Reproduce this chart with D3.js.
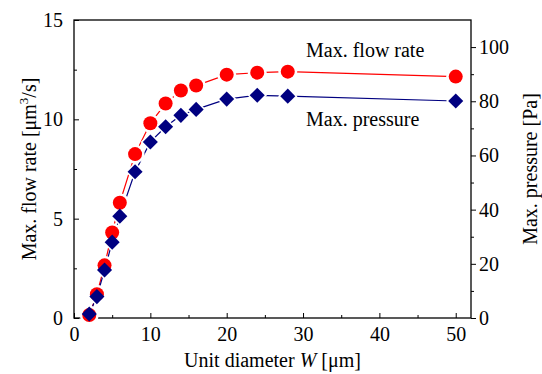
<!DOCTYPE html>
<html>
<head>
<meta charset="utf-8">
<script src="https://cdn.jsdelivr.net/npm/d3@7"></script>
<style>
  body { margin: 0; background: #fff; }
  svg text { font-family: "Times New Roman", Times, "Liberation Serif", "DejaVu Serif", serif; fill: #000; }
</style>
</head>
<body>
<svg id="chart"></svg>
<script>
// data
const diameters = [2, 3, 4, 5, 6, 8, 10, 12, 14, 16, 20, 24, 28, 50];
const flowRate = [0.15, 1.2, 2.65, 4.3, 5.8, 8.25, 9.8, 10.8, 11.45, 11.7, 12.25, 12.35, 12.4, 12.15];
const pressure = [1.5, 7.9, 17.7, 28, 37.6, 54, 65, 70.6, 74.8, 77, 80.8, 82.2, 81.9, 80.1];

const xTicks = [0, 10, 20, 30, 40, 50];
const yLeftTicks = [0, 5, 10, 15];
const yRightTicks = [0, 20, 40, 60, 80, 100];

const width = 542;
const height = 374;
const plotLeft = 74, plotRight = 471, plotTop = 20, plotBottom = 318;

const red = "#ff0000";
const navy = "#000080";
const serif = '"Times New Roman", Times, "Liberation Serif", "DejaVu Serif", serif';

let svg = d3.select("#chart").attr("width", width).attr("height", height);

let xScale = d3.scaleLinear().domain([0, 52]).range([plotLeft, plotRight]);
let yLeft = d3.scaleLinear().domain([0, 15]).range([plotBottom, plotTop]);
let yRight = d3.scaleLinear().domain([0, 110]).range([plotBottom, plotTop]);

// axes
function drawAxes() {
  // bottom: inward ticks
  svg.append("g")
    .attr("transform", "translate(0," + plotBottom + ")")
    .call(d3.axisBottom(xScale).tickValues(d3.range(5, 50, 10)).tickSize(-3).tickFormat(""))
    .call(g => g.select(".domain").remove());
  svg.append("g")
    .attr("transform", "translate(0," + plotBottom + ")")
    .call(d3.axisBottom(xScale).tickValues(xTicks).tickSizeInner(-5).tickSizeOuter(0).tickPadding(9))
    .call(g => g.select(".domain").remove());

  // left: inward ticks
  svg.append("g")
    .attr("transform", "translate(" + plotLeft + ",0)")
    .call(d3.axisLeft(yLeft).tickValues([2.5, 7.5, 12.5]).tickSize(-3).tickFormat(""))
    .call(g => g.select(".domain").remove());
  svg.append("g")
    .attr("transform", "translate(" + plotLeft + ",0)")
    .call(d3.axisLeft(yLeft).tickValues(yLeftTicks).tickSizeInner(-5).tickSizeOuter(0).tickPadding(11))
    .call(g => g.select(".domain").remove());

  // right: outward ticks
  svg.append("g")
    .attr("transform", "translate(" + plotRight + ",0)")
    .call(d3.axisRight(yRight).tickValues([10, 30, 50, 70, 90]).tickSize(3).tickFormat(""))
    .call(g => g.select(".domain").remove());
  svg.append("g")
    .attr("transform", "translate(" + plotRight + ",0)")
    .call(d3.axisRight(yRight).tickValues(yRightTicks).tickSizeInner(5).tickSizeOuter(0).tickPadding(3))
    .call(g => g.select(".domain").remove());

  svg.selectAll("g").attr("font-family", serif).attr("font-size", 20);
  svg.selectAll(".tick line").attr("stroke", "#000").attr("stroke-width", 1);
  svg.selectAll(".tick text").attr("fill", "#000");

  // frame
  svg.append("rect")
    .attr("x", plotLeft).attr("y", plotTop)
    .attr("width", plotRight - plotLeft).attr("height", plotBottom - plotTop)
    .attr("fill", "none").attr("stroke", "#000").attr("stroke-width", 1.3);
}

function drawSeries() {
  let lineFlow = d3.line().x((d, i) => xScale(diameters[i])).y(d => yLeft(d));
  let linePress = d3.line().x((d, i) => xScale(diameters[i])).y(d => yRight(d));

  svg.append("path").datum(flowRate)
    .attr("d", lineFlow).attr("fill", "none").attr("stroke", red).attr("stroke-width", 1.2);
  svg.append("path").datum(pressure)
    .attr("d", linePress).attr("fill", "none").attr("stroke", navy).attr("stroke-width", 1.2);

  let diamond = d3.symbol().type(d3.symbolDiamond2).size(2 * 8.5 * 8.5);
  let diamondHalo = d3.symbol().type(d3.symbolDiamond2).size(2 * 11 * 11);

  // white halos give the gap between line and symbol
  svg.append("g").selectAll("circle")
    .data(flowRate).enter().append("circle")
    .attr("cx", (d, i) => xScale(diameters[i]))
    .attr("cy", d => yLeft(d))
    .attr("r", 9.5).attr("fill", "#fff");
  svg.append("g").selectAll("path")
    .data(pressure).enter().append("path")
    .attr("d", diamondHalo)
    .attr("transform", (d, i) => "translate(" + xScale(diameters[i]) + "," + yRight(d) + ")")
    .attr("fill", "#fff");

  svg.append("g").selectAll("circle")
    .data(flowRate).enter().append("circle")
    .attr("cx", (d, i) => xScale(diameters[i]))
    .attr("cy", d => yLeft(d))
    .attr("r", 7).attr("fill", red);
  svg.append("g").selectAll("path")
    .data(pressure).enter().append("path")
    .attr("d", diamond)
    .attr("transform", (d, i) => "translate(" + xScale(diameters[i]) + "," + yRight(d) + ")")
    .attr("fill", navy);
}

function drawLabels() {
  let g = svg.append("g").attr("font-family", serif).attr("font-size", 20);

  g.append("text")
    .attr("x", (plotLeft + plotRight) / 2).attr("y", 367)
    .attr("text-anchor", "middle")
    .html('Unit diameter <tspan font-style="italic">W</tspan> [μm]');

  g.append("text")
    .attr("transform", "translate(36," + (plotTop + plotBottom) / 2 + ") rotate(-90)")
    .attr("text-anchor", "middle")
    .html('Max. flow rate [μm<tspan dy="-8" font-size="13">3</tspan><tspan dy="8">/s]</tspan>');

  g.append("text")
    .attr("transform", "translate(537," + (plotTop + plotBottom) / 2 + ") rotate(-90)")
    .attr("text-anchor", "middle")
    .text("Max. pressure [Pa]");

  g.append("text").attr("x", 306).attr("y", 57).text("Max. flow rate");
  g.append("text").attr("x", 306).attr("y", 126).text("Max. pressure");
}

drawAxes();
drawSeries();
drawLabels();
</script>
</body>
</html>
